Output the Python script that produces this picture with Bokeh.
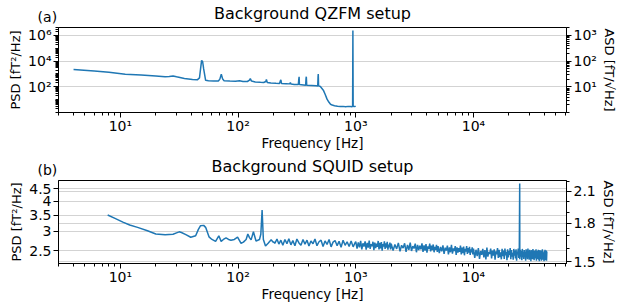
import numpy as np
from bokeh.plotting import figure
from bokeh.layouts import column
from bokeh.models import (Range1d, LogAxis, LinearAxis, LogScale, LinearScale, FixedTicker,
                          CustomJSTickFormatter, NumeralTickFormatter, Grid)
from bokeh.embed import file_html
from bokeh.resources import INLINE

# ---------------- data ----------------
# (a) QZFM setup: frequency [Hz] and PSD [fT^2/Hz]
qzfm_freq = [4, 6, 8, 11, 15, 20, 24, 26, 28, 30, 35, 41, 45, 47, 48, 49, 50, 51, 53, 56,
             62, 68, 70, 72, 74, 76, 85, 95, 103, 110, 120, 125, 127, 130, 140, 155, 165,
             172, 174, 177, 190, 210, 225, 229, 231, 234, 255, 275, 278, 282, 300, 325,
             328, 330, 332, 360, 375, 378, 380, 383, 420, 460, 475, 478, 480, 483, 500,
             510, 530, 550, 570, 590, 610, 630, 660, 700, 740, 780, 820, 860, 900, 930,
             940, 945, 950, 970, 1000]
qzfm_psd = [2200, 1700, 1350, 960, 850, 700, 600, 650, 710, 600, 450, 370, 350, 500, 2500,
            11500, 9000, 2500, 320, 300, 290, 290, 400, 950, 400, 300, 280, 270, 300, 265,
            260, 330, 440, 280, 240, 225, 220, 260, 370, 220, 200, 190, 185, 300, 350, 180,
            175, 170, 215, 165, 155, 150, 400, 600, 150, 140, 135, 450, 620, 130, 125, 120,
            115, 600, 1000, 120, 105, 85, 55, 25, 11, 6.5, 4.4, 3.8, 3.4, 3.1, 2.9, 3.0,
            2.8, 3.0, 2.9, 2.8, 3.2, 2450000, 3.1, 2.9, 3.0]

# (b) SQUID setup: low-frequency part with distinct features
squid_freq_low = [7.8, 9, 10.5, 12, 14, 17, 20, 24, 28, 30, 31.6, 33, 36, 39.6, 43.6, 46,
                  48, 51, 53, 56.6, 60, 64.4, 68.6, 71.8, 75, 79, 83, 87, 93, 99, 106, 111,
                  117, 121, 125, 129, 135, 142, 147, 152, 156, 160, 164, 171, 180, 191, 197, 203]
squid_psd_low = [3.51, 3.40, 3.28, 3.19, 3.12, 3.02, 2.93, 2.91, 2.92, 2.96, 2.99, 2.97, 2.91,
                 2.84, 2.88, 3.06, 3.17, 3.18, 3.12, 2.85, 2.78, 2.73, 2.88, 2.73, 2.78, 2.82,
                 2.78, 2.76, 2.78, 2.84, 2.68, 2.71, 2.78, 2.93, 2.83, 2.77, 2.99, 2.74, 2.76,
                 2.78, 2.92, 3.68, 2.78, 2.61, 2.68, 2.77, 2.72, 2.70]
# noise floor 205 Hz - 1 kHz
squid_freq_a = [205, 214, 222, 231, 240, 250, 260, 270, 281, 292, 304, 316, 329, 342, 356,
                370, 385, 400, 416, 433, 450, 468, 487, 507, 527, 548, 570, 593, 617, 641,
                667, 694, 721, 750, 780, 812, 844, 878, 913, 950, 988]
squid_psd_a = [2.68, 2.79, 2.66, 2.76, 2.63, 2.78, 2.67, 2.80, 2.64, 2.75, 2.62, 2.79, 2.69,
               2.63, 2.78, 2.66, 2.76, 2.61, 2.74, 2.67, 2.79, 2.62, 2.72, 2.76, 2.60, 2.74,
               2.65, 2.78, 2.59, 2.71, 2.75, 2.62, 2.73, 2.58, 2.76, 2.63, 2.72, 2.60, 2.74,
               2.59, 2.70]
# noise floor 1 kHz - 10 kHz
squid_freq_b = [1000, 1025, 1050, 1075, 1100, 1125, 1150, 1175, 1200, 1225, 1250, 1275, 1300,
                1325, 1350, 1375, 1400, 1425, 1450, 1475, 1500, 1525, 1550, 1575, 1600, 1625,
                1650, 1675, 1700, 1725, 1750, 1775, 1800, 1825, 1850, 1875, 1900, 1925, 1950,
                1975,
                2000, 2075, 2150, 2225, 2300, 2375, 2450, 2525, 2600, 2675, 2750, 2825, 2900,
                2975, 3050, 3125, 3200, 3275, 3350, 3425, 3500, 3575, 3650, 3725, 3800, 3875,
                3950, 4025, 4100, 4175, 4250, 4325, 4400, 4475, 4550, 4625, 4700, 4775, 4850,
                4925,
                5000, 5125, 5250, 5375, 5500, 5625, 5750, 5875, 6000, 6125, 6250, 6375, 6500,
                6625, 6750, 6875, 7000, 7125, 7250, 7375, 7500, 7625, 7750, 7875, 8000, 8125,
                8250, 8375, 8500, 8625, 8750, 8875, 9000, 9125, 9250, 9375, 9500, 9625, 9750,
                9875]
squid_psd_b = [2.72, 2.55, 2.70, 2.58, 2.74, 2.53, 2.68, 2.60, 2.73, 2.52, 2.69, 2.57, 2.75,
               2.54, 2.66, 2.61, 2.72, 2.51, 2.70, 2.56, 2.67, 2.59, 2.74, 2.53, 2.69, 2.55,
               2.71, 2.50, 2.66, 2.60, 2.73, 2.54, 2.68, 2.57, 2.72, 2.52, 2.65, 2.58, 2.70,
               2.53,
               2.67, 2.50, 2.65, 2.54, 2.69, 2.48, 2.63, 2.56, 2.68, 2.47, 2.64, 2.52, 2.70,
               2.49, 2.61, 2.55, 2.67, 2.46, 2.64, 2.51, 2.62, 2.53, 2.68, 2.47, 2.63, 2.50,
               2.66, 2.45, 2.60, 2.54, 2.67, 2.48, 2.62, 2.51, 2.65, 2.46, 2.59, 2.52, 2.64,
               2.47,
               2.61, 2.44, 2.59, 2.48, 2.63, 2.42, 2.57, 2.50, 2.62, 2.41, 2.58, 2.46, 2.64,
               2.43, 2.55, 2.49, 2.61, 2.40, 2.58, 2.45, 2.56, 2.47, 2.62, 2.41, 2.57, 2.44,
               2.60, 2.39, 2.54, 2.48, 2.61, 2.42, 2.56, 2.45, 2.59, 2.40, 2.53, 2.46, 2.58,
               2.41]
# noise floor 10 kHz - 42 kHz (with the line near 24.7 kHz)
squid_freq_c = [10000, 10250, 10500, 10750, 11000, 11250, 11500, 11750, 12000, 12250,
                12500, 12750, 13000, 13250, 13500, 13750, 14000, 14250, 14500, 14750,
                15000, 15250, 15500, 15750, 16000, 16250, 16500, 16750, 17000, 17250,
                17500, 17750, 18000, 18250, 18500, 18750, 19000, 19250, 19500, 19750,
                20000, 20250, 20500, 20750, 21000, 21250, 21500, 21750, 22000, 22250,
                22500, 22750, 23000, 23250, 23500, 23750, 24000, 24250, 24500, 24700, 24750,
                25000, 25250, 25500, 25750, 26000, 26250, 26500, 26750, 27000, 27250,
                27500, 27750, 28000, 28250, 28500, 28750, 29000, 29250, 29500, 29750,
                30000, 30250, 30500, 30750, 31000, 31250, 31500, 31750, 32000, 32250,
                32500, 32750, 33000, 33250, 33500, 33750, 34000, 34250, 34500, 34750,
                35000, 35250, 35500, 35750, 36000, 36250, 36500, 36750, 37000, 37250,
                37500, 37750, 38000, 38250, 38500, 38750, 39000, 39250, 39500, 39750,
                40000, 40250, 40500, 40750, 41000, 41250, 41500, 41750, 42000]
squid_psd_c = [2.55, 2.33, 2.52, 2.37, 2.56, 2.31, 2.49, 2.40, 2.54, 2.34,
               2.51, 2.30, 2.57, 2.36, 2.47, 2.42, 2.55, 2.32, 2.50, 2.38,
               2.53, 2.29, 2.48, 2.41, 2.56, 2.33, 2.52, 2.35, 2.46, 2.30,
               2.54, 2.37, 2.50, 2.31, 2.55, 2.39, 2.47, 2.28, 2.53, 2.34,
               2.49, 2.40, 2.56, 2.30, 2.51, 2.36, 2.45, 2.29, 2.54, 2.38,
               2.50, 2.32, 2.53, 2.27, 2.48, 2.41, 2.55, 2.33, 2.46, 4.74, 2.30,
               2.52, 2.36, 2.49, 2.28, 2.54, 2.35, 2.47, 2.31, 2.51, 2.39,
               2.45, 2.27, 2.53, 2.34, 2.50, 2.30, 2.55, 2.37, 2.44, 2.29,
               2.52, 2.33, 2.48, 2.26, 2.51, 2.38, 2.46, 2.30, 2.54, 2.35,
               2.47, 2.28, 2.50, 2.32, 2.43, 2.36, 2.53, 2.27, 2.49, 2.31,
               2.45, 2.34, 2.52, 2.29, 2.48, 2.26, 2.51, 2.37, 2.44, 2.30,
               2.50, 2.27, 2.47, 2.33, 2.53, 2.29, 2.46, 2.35, 2.42, 2.26,
               2.49, 2.31, 2.52, 2.28, 2.45, 2.34, 2.50, 2.27, 2.48]

squid_freq = squid_freq_low + squid_freq_a + squid_freq_b + squid_freq_c
squid_psd = squid_psd_low + squid_psd_a + squid_psd_b + squid_psd_c

# axis settings
x_lim = (2.98, 61700)
x_major = [1e1, 1e2, 1e3, 1e4]
a_psd_lim = (1.0, 4.2e6)
a_psd_major = [1e2, 1e4, 1e6]
a_asd_major = [1e1, 1e2, 1e3]
b_psd_lim = (2.21, 4.88)
b_psd_major = [2.5, 3, 3.5, 4, 4.5]
b_asd_major = [1.5, 1.8, 2.1]
b_asd_minor = [1.6, 1.7, 1.9, 2.0, 2.2]

FONT = "DejaVu Sans"
BLUE = "#1f77b4"
GRIDC = "#d3d3d3"
FW = 508
BL, BR = 58, 48
NB = "\u00a0"

SUP_JS = """
const sup = {"0":"\u2070","1":"\u00b9","2":"\u00b2","3":"\u00b3","4":"\u2074",
             "5":"\u2075","6":"\u2076","7":"\u2077","8":"\u2078","9":"\u2079","-":"\u207b"};
const e = Math.round(Math.log10(tick));
return "10" + String(e).split("").map(c => sup[c]).join("");
"""


def log_minor(lo, hi, majors):
    out = []
    for n in range(-1, 8):
        for k in range(1, 10):
            v = k * 10.0 ** n
            if lo <= v <= hi and not any(abs(v - m) < 1e-9 * m for m in majors):
                out.append(v)
    return out


def style_axis(ax, label=None, size="13px"):
    ax.axis_line_color = "black"
    ax.major_tick_line_color = "black"
    ax.minor_tick_line_color = "black"
    ax.major_tick_in = 0
    ax.major_tick_out = 5
    ax.minor_tick_in = 0
    ax.minor_tick_out = 3
    ax.major_label_text_font = FONT
    ax.major_label_text_font_size = "14px"
    ax.major_label_text_color = "black"
    ax.major_label_text_line_height = 1.0
    ax.major_label_standoff = 2
    if label is not None:
        ax.axis_label = label
        ax.axis_label_text_font = FONT
        ax.axis_label_text_font_size = size
        ax.axis_label_text_font_style = "normal"
        ax.axis_label_text_color = "black"
        ax.axis_label_text_line_height = 1.0
        ax.axis_label_standoff = 2


def make_fig(frame_h, top, ylim, title, tag):
    p = figure(frame_width=FW, frame_height=frame_h, x_axis_type="log", y_axis_type="log",
               x_range=Range1d(*x_lim), y_range=Range1d(*ylim),
               output_backend="svg", toolbar_location=None,
               min_border_left=BL, min_border_right=BR,
               min_border_top=top, min_border_bottom=0)
    p.title.visible = False
    p.outline_line_color = "black"
    p.outline_line_alpha = 1
    p.background_fill_color = "white"
    p.border_fill_color = "white"
    p.xgrid.visible = False
    p.ygrid.grid_line_color = GRIDC
    p.ygrid.grid_line_width = 1
    xa = p.xaxis[0]
    style_axis(xa, "Frequency [Hz]", "13.5px")
    xa.major_label_standoff = 0
    xa.axis_label_standoff = -2
    xa.ticker = FixedTicker(ticks=x_major, minor_ticks=log_minor(*x_lim, x_major))
    xa.formatter = CustomJSTickFormatter(code=SUP_JS)
    style_axis(p.yaxis[0], "PSD [fT²/Hz]")
    # header row above the frame: panel tag on the left, title centred
    p.extra_x_ranges = {"tag": Range1d(0, 1)}
    p.extra_x_scales = {"tag": LinearScale()}
    ta = LinearAxis(x_range_name="tag", ticker=FixedTicker(ticks=[0]),
                    formatter=CustomJSTickFormatter(code='return "%s";' % (tag + NB * 5)))
    ta.axis_line_alpha = 0
    ta.major_tick_out = 0
    ta.major_tick_in = 0
    ta.minor_tick_out = 0
    ta.minor_tick_in = 0
    ta.major_label_text_font = FONT
    ta.major_label_text_font_size = "14px"
    ta.major_label_text_color = "black"
    ta.major_label_text_line_height = 1.0
    ta.major_label_standoff = 3
    ta.axis_label = title
    ta.axis_label_text_font = FONT
    ta.axis_label_text_font_size = "16px"
    ta.axis_label_text_font_style = "normal"
    ta.axis_label_text_color = "black"
    ta.axis_label_text_line_height = 1.0
    ta.axis_label_standoff = -17
    p.add_layout(ta, "above")
    return p


def right_axis(p, lim, label):
    p.extra_y_ranges = {"asd": Range1d(np.sqrt(lim[0]), np.sqrt(lim[1]))}
    p.extra_y_scales = {"asd": LogScale()}
    ax = LogAxis(y_range_name="asd")
    style_axis(ax, label)
    p.add_layout(ax, "right")
    return ax


# ---------------- (a) ----------------
p1 = make_fig(85, 0, a_psd_lim, "Background QZFM setup", "(a)")
ya = p1.yaxis[0]
ya.ticker = FixedTicker(ticks=a_psd_major, minor_ticks=log_minor(*a_psd_lim, a_psd_major))
ya.formatter = CustomJSTickFormatter(code=SUP_JS)
p1.ygrid[0].ticker = FixedTicker(ticks=a_psd_major)
ra = right_axis(p1, a_psd_lim, "ASD [fT/√Hz]")
ra.ticker = FixedTicker(ticks=a_asd_major,
                        minor_ticks=log_minor(np.sqrt(a_psd_lim[0]), np.sqrt(a_psd_lim[1]), a_asd_major))
ra.formatter = CustomJSTickFormatter(code=SUP_JS)
p1.line(qzfm_freq, qzfm_psd, line_color=BLUE, line_width=1.5)

# ---------------- (b) ----------------
p2 = make_fig(83, 0, b_psd_lim, "Background SQUID setup", "(b)")
yb = p2.yaxis[0]
yb.ticker = FixedTicker(ticks=b_psd_major)
yb.formatter = NumeralTickFormatter(format="0.[0]")
p2.ygrid[0].ticker = FixedTicker(ticks=b_psd_major)
rb = right_axis(p2, b_psd_lim, "ASD [fT/√Hz]")
rb.ticker = FixedTicker(ticks=b_asd_major, minor_ticks=b_asd_minor)
rb.formatter = NumeralTickFormatter(format="0.0")
p2.add_layout(Grid(dimension=1, y_range_name="asd", ticker=FixedTicker(ticks=b_asd_major),
                   grid_line_color=GRIDC, grid_line_width=1))
p2.line(squid_freq, squid_psd, line_color=BLUE, line_width=1.5)

layout = column(p1, p2, spacing=0)
with open("out.html", "w") as f:
    f.write(file_html(layout, INLINE))
